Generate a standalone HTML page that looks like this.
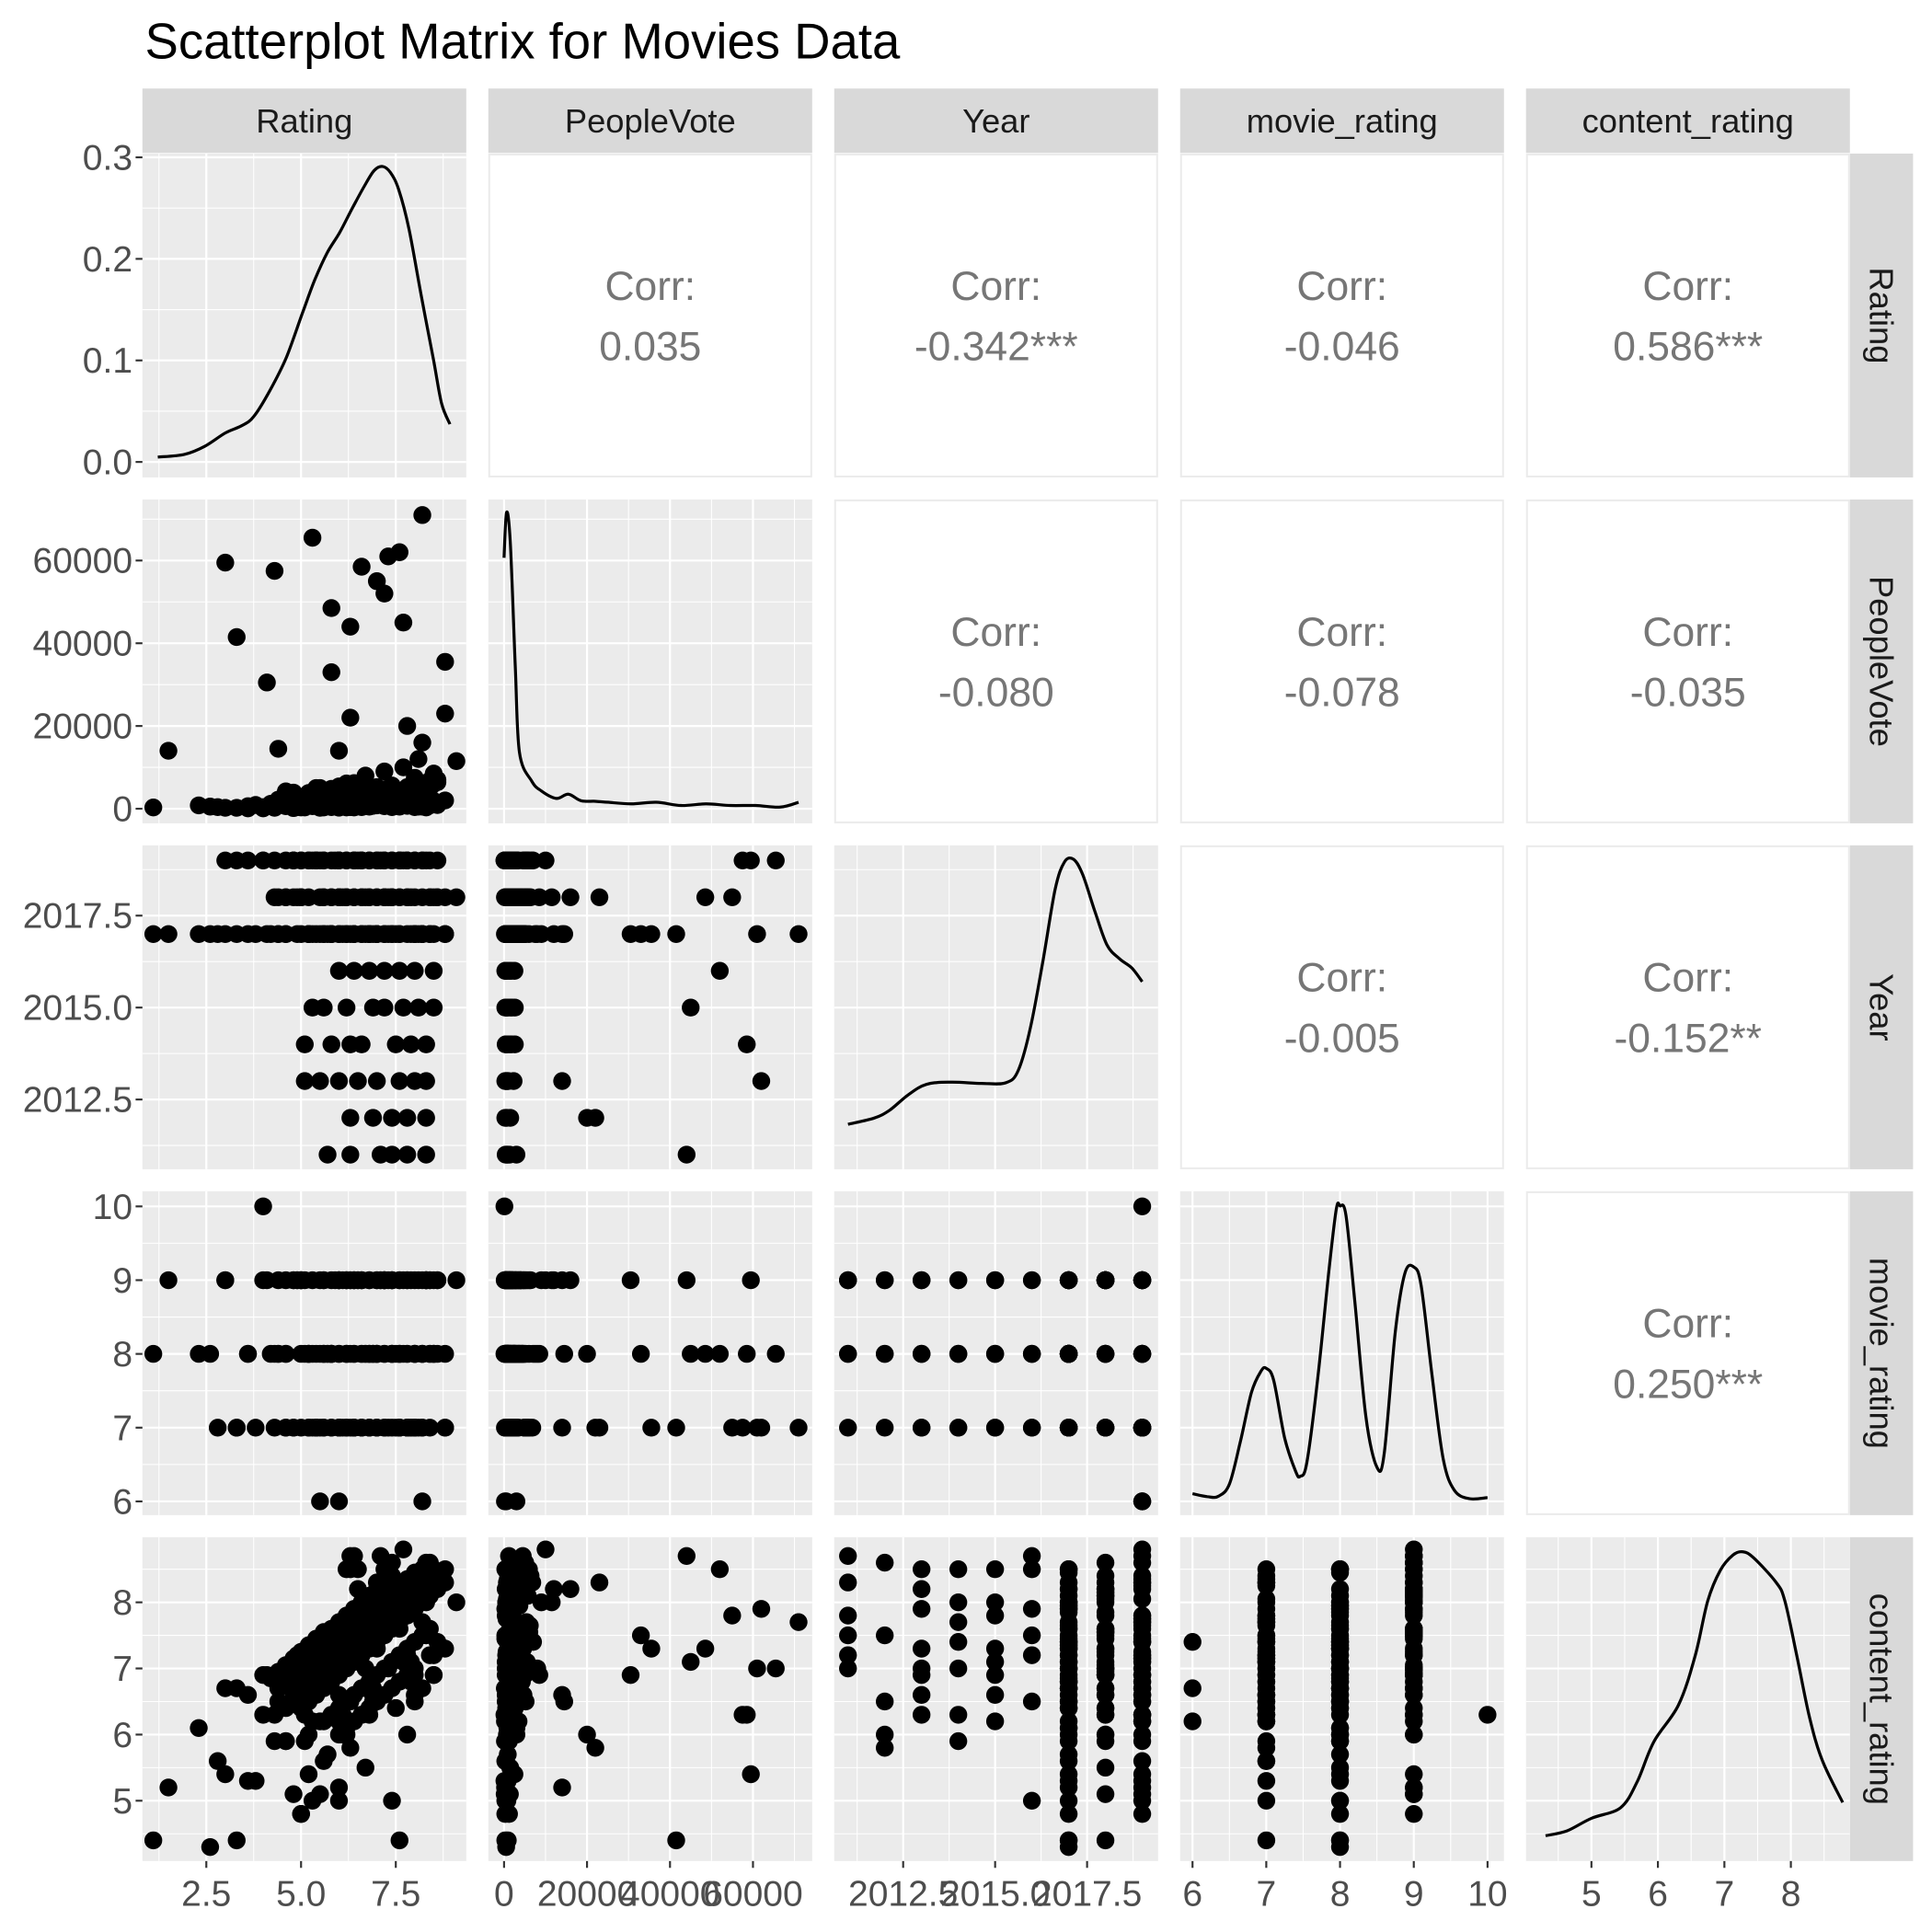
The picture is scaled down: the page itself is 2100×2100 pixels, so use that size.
<!DOCTYPE html>
<html><head><meta charset="utf-8"><title>Scatterplot Matrix for Movies Data</title>
<style>html,body{margin:0;padding:0;background:#fff}svg{display:block}text{font-family:"Liberation Sans",Arial,sans-serif}</style>
</head><body>
<svg id="chart" xmlns="http://www.w3.org/2000/svg" width="2100" height="2100" viewBox="0 0 1560 1560" preserveAspectRatio="none">
<rect x="0" y="0" width="1560" height="1560" fill="#ffffff"/>
<text x="117" y="47" font-size="40.5" fill="#000">Scatterplot Matrix for Movies Data</text>
</svg>
<script>
// ---- data: main rows ----
const ratingMain=[1.1,1.5,2.3,2.6,2.8,3.0,3.3,3.6,3.8,4.1,4.4,4.6,4.9,5.2,5.5,5.8,6.1,6.4,6.7,7.0,7.3,7.6,7.9,8.2,8.5,8.8,5.0,5.3,5.7,6.0,6.3,6.6,6.9,7.2,7.5,7.8,8.1,8.4,
3.0,3.3,3.6,4.0,4.3,4.6,5.0,5.3,5.6,5.9,6.2,6.5,6.8,7.1,7.4,7.7,8.0,8.3,8.6,4.8,6.0,
4.3,4.6,4.9,5.2,5.5,5.8,6.1,6.4,6.7,7.0,7.3,7.6,7.9,8.2,8.5,8.8,9.1,
6.0,6.4,6.8,7.2,7.6,8.0,8.5,
5.3,5.6,6.2,6.9,7.2,7.7,8.1,8.5,
5.1,5.8,6.3,6.6,7.5,7.9,8.3,
5.1,5.5,6.0,6.5,7.0,7.6,8.0,8.3,
6.3,6.9,7.4,7.8,8.3,
5.7,6.3,7.1,7.4,7.8,8.3,
5.5,6.0,8.2,4.0];
const votesMain=[300,14000,800,500,400,200,41500,600,900,30500,14500,1200,700,2500,5000,33000,3000,1500,8000,2000,61000,4000,1000,71000,6000,35500,300,600,900,1800,2200,400,3500,9000,2600,5200,12000,800,
59500,200,100,400,57500,900,1200,65500,300,2000,700,1600,500,4500,800,10000,1300,3000,7000,150,250,
200,600,400,1000,1400,48500,700,2800,1500,55000,3500,900,5500,16000,8500,23000,11500,
300,1200,600,52000,2500,400,1700,
700,1500,300,2600,900,45000,500,1900,
800,1800,400,58500,1300,2600,500,
300,900,14000,600,2300,62000,1000,400,
22000,700,1500,20000,300,
900,44000,1300,400,3000,700,
200,3000,500,100];
const yearMain=[2017,2017,2017,2017,2017,2017,2017,2017,2017,2017,2017,2017,2017,2017,2017,2017,2017,2017,2017,2017,2017,2017,2017,2017,2017,2017,2017,2017,2017,2017,2017,2017,2017,2017,2017,2017,2017,2017,
2019,2019,2019,2019,2019,2019,2019,2019,2019,2019,2019,2019,2019,2019,2019,2019,2019,2019,2019,2019,2019,
2018,2018,2018,2018,2018,2018,2018,2018,2018,2018,2018,2018,2018,2018,2018,2018,2018,
2016,2016,2016,2016,2016,2016,2016,
2015,2015,2015,2015,2015,2015,2015,2015,
2014,2014,2014,2014,2014,2014,2014,
2013,2013,2013,2013,2013,2013,2013,2013,
2012,2012,2012,2012,2012,
2011,2011,2011,2011,2011,2011,
2019,2019,2019,2019];
const movieMain=[8,9,8,8,7,9,7,8,7,9,8,7,9,8,7,8,9,7,8,9,7,8,9,7,8,7,8,7,8,7,8,9,8,9,7,8,9,8,
9,7,8,9,7,8,9,8,7,9,8,9,7,9,8,9,7,9,8,9,9,
8,7,9,8,9,8,7,9,8,7,9,8,7,9,8,7,9,
8,9,7,8,9,7,8,
9,8,7,8,9,8,7,9,
8,7,9,8,8,7,9,
9,8,7,9,8,7,8,9,
7,8,9,8,9,
8,9,9,8,7,9,
6,6,6,10];
const contentMain=[4.4,5.2,6.1,4.3,5.6,6.7,4.4,6.6,5.3,6.9,6.5,5.9,7.2,5.4,7.4,7.5,6.0,7.1,7.0,8.3,7.0,7.6,6.8,7.7,8.5,7.3,4.8,5.0,5.7,6.2,6.5,7.9,6.7,8.0,6.4,8.1,8.2,7.2,
5.4,6.7,5.3,6.9,6.3,5.9,4.8,7.0,5.6,7.6,6.0,8.2,6.3,8.7,5.0,8.8,6.6,8.6,7.4,5.1,5.2,
5.9,6.4,7.0,6.0,5.1,7.3,6.3,7.6,5.5,7.8,8.1,4.4,7.1,8.2,6.9,8.3,8.0,
5.0,8.7,7.5,8.5,7.9,6.5,7.2,
6.2,7.3,8.5,6.6,7.8,7.1,8.0,6.9,
5.9,7.4,8.5,6.3,7.7,7.0,8.0,
6.3,7.0,6.6,8.5,7.3,7.9,6.9,8.2,
5.8,6.5,8.6,6.0,7.5,
7.0,8.7,7.5,7.8,7.2,8.3,
6.2,7.4,6.7,6.3];
// ---- data: additional rows (diagonal content bands) ----
const ratingBand=[4.2,4.6,5.0,5.4,5.8,6.2,6.6,7.0,7.4, 4.4,4.8,5.2,5.6,6.0,6.4,6.8,7.2,7.6,8.0,8.4, 4.8,5.2,5.6,6.0,6.4,6.8,7.2,7.6,8.0,8.4,8.8, 5.0,5.4,5.8,6.2,6.6,7.0,7.4,7.8,8.2,8.6, 5.6,6.0,6.4,6.8,7.2,7.6,8.0,8.4, 6.0,6.4,6.8,7.2,7.6,8.0];
const contentBand=[6.85,7.05,7.25,7.45,7.6,7.8,8.0,8.2,8.4, 6.7,6.9,7.1,7.3,7.45,7.65,7.85,8.05,8.25,8.45,8.6, 6.6,6.8,7.0,7.15,7.35,7.55,7.75,7.95,8.15,8.3,8.5, 6.4,6.6,6.8,7.0,7.2,7.4,7.6,7.8,8.0,8.2, 6.2,6.4,6.6,6.8,7.0,7.2,7.4,7.6, 6.0,6.2,6.4,6.6,6.8,7.0];
const yearBand=[2017,2018,2019,2017,2018,2019,2017,2018,2019, 2017,2018,2019,2017,2018,2019,2017,2018,2019,2017,2018, 2019,2017,2018,2019,2017,2018,2019,2017,2018,2019,2017, 2018,2019,2017,2018,2019,2017,2018,2019,2017,2018, 2019,2017,2018,2019,2017,2018,2019,2017, 2018,2019,2017,2018,2019,2017];
const movieBand=[8,9,7,8,9,7,8,9,7, 8,9,7,8,9,7,8,9,7,8,9, 7,8,9,7,8,9,7,8,9,7,8, 9,7,8,9,7,8,9,7,8,9, 7,8,9,7,8,9,7,8, 9,7,8,9,7,8];
const votesBand=[1200,3400,600,2100,4800,900,2700,1500,5600, 800,3900,1100,2500,300,6200,1700,4100,700,2900,5100, 400,1900,3300,1000,4500,2300,600,3700,1400,6800,2000, 500,2600,4300,1200,3100,800,5300,1800,3600,900, 2400,700,4000,1600,3000,500,5800,2200, 1300,3500,1000,4700,2800,7500];
// ---- data: more band rows ----
const ratingBand2=[4.4,4.8,5.2,5.6,6.0,6.4,6.8,7.2, 4.6,5.0,5.4,5.8,6.2,6.6,7.0,7.4,7.8,8.2, 5.0,5.4,5.8,6.2,6.6,7.0,7.4,7.8,8.2,8.6, 5.2,5.6,6.0,6.4,6.8,7.2,7.6,8.0,8.4, 5.8,6.2,6.6,7.0,7.4,7.8,8.2, 6.2,6.6,7.0,7.4,7.8];
const contentBand2=[6.95,7.15,7.35,7.55,7.7,7.9,8.1,8.3, 6.8,7.0,7.2,7.4,7.55,7.75,7.95,8.15,8.35,8.5, 6.7,6.9,7.1,7.25,7.45,7.65,7.85,8.05,8.2,8.4, 6.5,6.7,6.9,7.1,7.3,7.5,7.7,7.9,8.1, 6.3,6.5,6.7,6.9,7.1,7.3,7.5, 6.1,6.3,6.5,6.7,6.9];
const yearBand2=[2018,2019,2017,2018,2019,2017,2018,2019, 2017,2018,2019,2017,2018,2019,2017,2018,2019,2017, 2018,2019,2017,2018,2019,2017,2018,2019,2017,2018, 2019,2017,2018,2019,2017,2018,2019,2017,2018, 2019,2017,2018,2019,2017,2018,2019, 2017,2018,2019,2017,2018];
const movieBand2=[9,7,8,9,7,8,9,7, 8,9,7,8,9,7,8,9,7,8, 9,7,8,9,7,8,9,7,8,9, 7,8,9,7,8,9,7,8,9, 7,8,9,7,8,9,7, 8,9,7,8,9];
const votesBand2=[2200,700,3800,1100,5400,300,2600,1900, 4200,800,3100,1500,6100,600,2400,3600,900,4900, 1700,5000,400,2800,1300,4400,2000,700,3300,6400, 1000,2500,3900,600,4600,1800,2900,1200,5700, 800,3400,2100,4800,1400,2700,600, 3000,1600,5200,900,4100];

// ---- diagonal density curves ----
const ratingDensX=[1.22,1.92,2.46,3.0,3.43,3.75,4.18,4.61,5.05,5.37,5.69,6.02,6.34,6.66,6.93,7.15,7.36,7.58,7.85,8.17,8.50,8.71,8.93];
const ratingDensY=[.0048,.0074,.0155,.0285,.0356,.0446,.0705,.1028,.148,.180,.206,.226,.249,.271,.287,.291,.285,.268,.229,.164,.0996,.0575,.0372];
const votesDensX=[0,600,1500,2700,3700,6700,9000,12600,15500,18500,22000,25200,30700,36700,42700,48700,54600,60600,66600,71000];
const votesDensY=[.82,.96,.87,.49,.22,.13,.10,.077,.09,.07,.068,.065,.06,.065,.055,.06,.055,.055,.05,.065];
const yearDensX=[2011.0,2011.71,2012.13,2012.63,2013.13,2013.79,2014.63,2015.29,2015.63,2015.96,2016.29,2016.63,2016.88,2017.13,2017.38,2017.71,2018.04,2018.38,2018.71,2019.0];
const yearDensY=[.139,.158,.182,.229,.262,.269,.265,.267,.305,.437,.636,.863,.948,.957,.91,.797,.693,.65,.622,.579];
const movieDensX=[6.0,6.2,6.35,6.5,6.65,6.8,6.93,7.0,7.1,7.25,7.4,7.46,7.55,7.7,7.85,7.95,8.0,8.08,8.2,8.35,8.5,8.6,8.75,8.88,9.0,9.1,9.25,9.4,9.55,9.75,10.0];
const movieDensY=[.066,.057,.058,.096,.228,.379,.445,.453,.417,.238,.134,.12,.162,.426,.757,.945,.955,.926,.662,.304,.148,.191,.568,.747,.766,.709,.426,.172,.077,.051,.054];
const contentDensX=[4.31,4.63,5.0,5.44,5.69,5.94,6.31,6.56,6.75,6.94,7.13,7.28,7.44,7.78,7.91,8.09,8.28,8.47,8.78];
const contentDensY=[.078,.093,.132,.165,.246,.369,.482,.633,.803,.898,.945,.955,.936,.86,.803,.633,.444,.312,.181];

// ---- correlation labels ----
const corrValues=["0.035","-0.342***","-0.046","0.586***","-0.080","-0.078","-0.035","-0.005","-0.152**","0.250***"];
const varLabels=["Rating","PeopleVote","Year","movie_rating","content_rating"];
const ratingTicks=[2.5,5.0,7.5]; const ratingTickLabels=["2.5","5.0","7.5"];
const votesTicks=[0,20000,40000,60000]; const votesTickLabels=["0","20000","40000","60000"];
const yearTicks=[2012.5,2015,2017.5]; const yearTickLabels=["2012.5","2015.0","2017.5"];
const movieTicks=[6,7,8,9,10]; const movieTickLabels=["6","7","8","9","10"];
const contentTicks=[5,6,7,8]; const contentTickLabels=["5","6","7","8"];
const densTicks=[0,0.1,0.2,0.3]; const densTickLabels=["0.0","0.1","0.2","0.3"];

const rating=ratingMain.concat(ratingBand,ratingBand2), votes=votesMain.concat(votesBand,votesBand2), year=yearMain.concat(yearBand,yearBand2), movie=movieMain.concat(movieBand,movieBand2), content=contentMain.concat(contentBand,contentBand2);
const cols=[rating,votes,year,movie,content];

const NS="http://www.w3.org/2000/svg";
const svg=document.getElementById('chart');
const P0=115, PITCHX=279.3, PY0=124, PITCHY=279.3, S=261.5;
const colX=[0,1,2,3,4].map(i=>P0+i*PITCHX), rowY=[0,1,2,3,4].map(i=>PY0+i*PITCHY);
const xDom=[[0.814,9.36],[-3790,74270],[2010.626,2019.43],[5.832,10.223],[4.016,8.888]];
const yDom=[[-0.01524,0.3037],[-3530,74760],[2010.604,2019.41],[5.814,10.205],[4.088,8.985]];
const majors=[ratingTicks,votesTicks,yearTicks,movieTicks,contentTicks];
const minors=[[1.25,3.75,6.25,8.75],[10000,30000,50000,70000],[2011.25,2013.75,2016.25,2018.75],[6.5,7.5,8.5,9.5],[4.5,5.5,6.5,7.5,8.5]];
const colLabels=[ratingTickLabels,votesTickLabels,yearTickLabels,movieTickLabels,contentTickLabels];
const rowMajors=[densTicks,votesTicks,yearTicks,movieTicks,contentTicks];
const rowMinors=[[0.05,0.15,0.25],minors[1],minors[2],minors[3],minors[4]];
const rowLabels=[densTickLabels,votesTickLabels,yearTickLabels,movieTickLabels,contentTickLabels];
function sx(c,v){const d=xDom[c];return colX[c]+(v-d[0])/(d[1]-d[0])*S;}
function sy(r,v){const d=yDom[r];return rowY[r]+S-(v-d[0])/(d[1]-d[0])*S;}
function fy(r,f){return rowY[r]+S*(1-f);}
function mk(tag,attrs){const e=document.createElementNS(NS,tag);for(const k in attrs)e.setAttribute(k,attrs[k]);return e;}
function smoothPath(p){
  let d='M'+p[0][0].toFixed(1)+','+p[0][1].toFixed(1);
  for(let i=0;i<p.length-1;i++){
    const p0=p[Math.max(0,i-1)],p1=p[i],p2=p[i+1],p3=p[Math.min(p.length-1,i+2)];
    const c1=[p1[0]+(p2[0]-p0[0])/6,p1[1]+(p2[1]-p0[1])/6];
    const c2=[p2[0]-(p3[0]-p1[0])/6,p2[1]-(p3[1]-p1[1])/6];
    d+=' C'+c1[0].toFixed(1)+','+c1[1].toFixed(1)+' '+c2[0].toFixed(1)+','+c2[1].toFixed(1)+' '+p2[0].toFixed(1)+','+p2[1].toFixed(1);
  }
  return d;
}

for(let i=0;i<5;i++){
  const g=mk('g',{});
  
  
  g.appendChild(mk('rect',{x:colX[i],y:71.5,width:S,height:52,fill:'#d9d9d9'}));
  const t=mk('text',{x:colX[i]+S/2,y:107,'font-size':27,fill:'#1a1a1a','text-anchor':'middle'});t.textContent=varLabels[i];g.appendChild(t);
  svg.appendChild(g);
  const g2=mk('g',{});
  
  
  g2.appendChild(mk('rect',{x:colX[4]+S,y:rowY[i],width:51,height:S,fill:'#d9d9d9'}));
  const cx=colX[4]+S+25.5, cy=rowY[i]+S/2;
  const t2=mk('text',{x:cx,y:cy,'font-size':27,fill:'#1a1a1a','text-anchor':'middle','dominant-baseline':'central',transform:'rotate(90 '+cx+' '+cy+')'});t2.textContent=varLabels[i];g2.appendChild(t2);
  svg.appendChild(g2);
}

let ci=0;
for(let r=0;r<5;r++){
  for(let c=0;c<5;c++){
    const g=mk('g',{});
    if(c>r){
      
      
      g.appendChild(mk('rect',{x:colX[c]+0.75,y:rowY[r]+0.75,width:S-1.5,height:S-1.5,fill:'#fff',stroke:'#ebebeb','stroke-width':1.5}));
      const t1=mk('text',{x:colX[c]+S/2,y:rowY[r]+118,'font-size':33,fill:'#767676','text-anchor':'middle'});t1.textContent='Corr:';
      const t2=mk('text',{x:colX[c]+S/2,y:rowY[r]+167,'font-size':33,fill:'#767676','text-anchor':'middle'});t2.textContent=corrValues[ci++];
      g.appendChild(t1);g.appendChild(t2);svg.appendChild(g);continue;
    }
    
    
    g.appendChild(mk('rect',{x:colX[c],y:rowY[r],width:S,height:S,fill:'#ebebeb'}));
    const clip='clip'+r+c;
    const cp=mk('clipPath',{id:clip});cp.appendChild(mk('rect',{x:colX[c],y:rowY[r],width:S,height:S}));g.appendChild(cp);
    const gg=mk('g',{'clip-path':'url(#'+clip+')'});
    rowMinors[r].forEach(v=>{const y=sy(r,v);gg.appendChild(mk('line',{x1:colX[c],x2:colX[c]+S,y1:y,y2:y,stroke:'#fff','stroke-width':0.8}));});
    minors[c].forEach(v=>{const x=sx(c,v);gg.appendChild(mk('line',{x1:x,x2:x,y1:rowY[r],y2:rowY[r]+S,stroke:'#fff','stroke-width':0.8}));});
    rowMajors[r].forEach(v=>{const y=sy(r,v);gg.appendChild(mk('line',{x1:colX[c],x2:colX[c]+S,y1:y,y2:y,stroke:'#fff','stroke-width':1.6}));});
    majors[c].forEach(v=>{const x=sx(c,v);gg.appendChild(mk('line',{x1:x,x2:x,y1:rowY[r],y2:rowY[r]+S,stroke:'#fff','stroke-width':1.6}));});
    if(c===r){
      let pts;
      if(r===0) pts=ratingDensX.map((v,i)=>[sx(0,v),sy(0,ratingDensY[i])]);
      else if(r===1) pts=votesDensX.map((v,i)=>[sx(1,v),fy(1,votesDensY[i])]);
      else if(r===2) pts=yearDensX.map((v,i)=>[sx(2,v),fy(2,yearDensY[i])]);
      else if(r===3) pts=movieDensX.map((v,i)=>[sx(3,v),fy(3,movieDensY[i])]);
      else pts=contentDensX.map((v,i)=>[sx(4,v),fy(4,contentDensY[i])]);
      const p=mk('path',{d:smoothPath(pts),fill:'none',stroke:'#000','stroke-width':2.4,'stroke-linejoin':'round'});
      
      
      gg.appendChild(p);
    } else {
      const xs=cols[c], ys=cols[r];
      for(let i=0;i<xs.length;i++){
        const pt=mk('circle',{cx:sx(c,xs[i]).toFixed(1),cy:sy(r,ys[i]).toFixed(1),r:7.2,fill:'#000'});
        
        
        gg.appendChild(pt);
      }
    }
    g.appendChild(gg);svg.appendChild(g);
  }
}
for(let r=0;r<5;r++){
  const g=mk('g',{});
  
  
  rowMajors[r].forEach((v,i)=>{const y=sy(r,v);
    g.appendChild(mk('line',{x1:colX[0]-5.5,x2:colX[0],y1:y,y2:y,stroke:'#333','stroke-width':1.6}));
    const t=mk('text',{x:colX[0]-8,y:y+10,'font-size':29,fill:'#4d4d4d','text-anchor':'end'});t.textContent=rowLabels[r][i];g.appendChild(t);});
  svg.appendChild(g);
}
const bottom=rowY[4]+S;
for(let c=0;c<5;c++){
  const g=mk('g',{});
  
  
  majors[c].forEach((v,i)=>{const x=sx(c,v);
    g.appendChild(mk('line',{x1:x,x2:x,y1:bottom,y2:bottom+5.5,stroke:'#333','stroke-width':1.6}));
    const t=mk('text',{x:x,y:bottom+36,'font-size':29,fill:'#4d4d4d','text-anchor':'middle'});t.textContent=colLabels[c][i];g.appendChild(t);});
  svg.appendChild(g);
}
</script>
</body></html>
